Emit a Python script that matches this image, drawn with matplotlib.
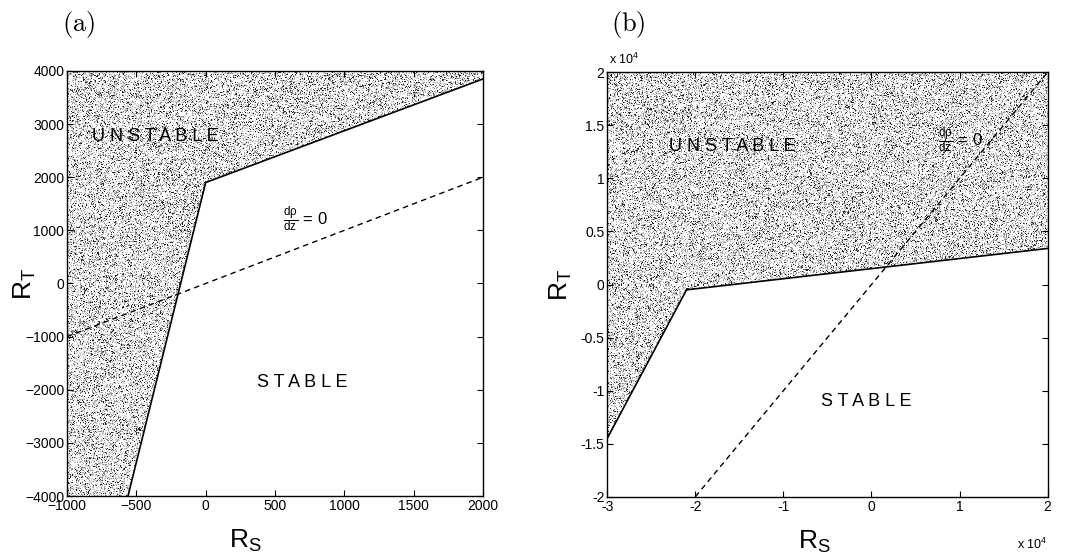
import numpy as np
import matplotlib.pyplot as plt
from matplotlib.patches import Polygon
from matplotlib.ticker import FuncFormatter

plt.rcParams['font.family'] = ['Liberation Sans', 'DejaVu Sans']
plt.rcParams['mathtext.fontset'] = 'custom'
plt.rcParams['mathtext.rm'] = 'Liberation Sans'
plt.rcParams['mathtext.it'] = 'Liberation Sans:italic'

# (a) frontera de estabilidad y linea d(rho)/dz = 0
rs_a = [-560, 0, 2000]
rt_a = [-4000, 1900, 3850]
rs_dz_a = [-1000, 2000]
rt_dz_a = [-1000, 2000]
xlim_a = (-1000, 2000)
ylim_a = (-4000, 4000)
xticks_a = [-1000, -500, 0, 500, 1000, 1500, 2000]
yticks_a = [-4000, -3000, -2000, -1000, 0, 1000, 2000, 3000, 4000]

# (b) misma cosa, escala x 10^4
rs_b = [-30000, -21000, 20000]
rt_b = [-14500, -500, 3400]
rs_dz_b = [-20000, 20000]
rt_dz_b = [-20000, 20000]
xlim_b = (-30000, 20000)
ylim_b = (-20000, 20000)
xticks_b = [-30000, -20000, -10000, 0, 10000, 20000]
yticks_b = [-20000, -15000, -10000, -5000, 0, 5000, 10000, 15000, 20000]

rng = np.random.default_rng(3)


def punteado(ax, verts, npx):
    # zona inestable: trama de puntos grises recortada al poligono
    poly = Polygon(verts, closed=True, facecolor='none', edgecolor='none')
    ax.add_patch(poly)
    tex = rng.choice([0.15, 0.55, 0.8, 1.0], size=npx, p=[0.08, 0.15, 0.2, 0.57])
    xl, yl = ax.get_xlim(), ax.get_ylim()
    im = ax.imshow(tex, cmap='gray', vmin=0, vmax=1, interpolation='nearest',
                   extent=[xl[0], xl[1], yl[0], yl[1]], aspect='auto', zorder=1)
    im.set_clip_path(poly)


def estilo(ax, xlim, ylim, xt, yt):
    ax.set_xlim(*xlim)
    ax.set_ylim(*ylim)
    ax.set_xticks(xt)
    ax.set_yticks(yt)
    ax.tick_params(direction='in', top=True, right=True, length=4, width=0.8,
                   labelsize=10, pad=2)
    for s in ax.spines.values():
        s.set_linewidth(1.0)
    ax.set_xlabel(r'$\mathregular{R_S}$', fontsize=19)
    ax.set_ylabel(r'$\mathregular{R_T}$', fontsize=19)


fig = plt.figure(figsize=(10.65, 5.55), dpi=100)
ax1 = fig.add_axes([0.0629, 0.1063, 0.3906, 0.7658])
ax2 = fig.add_axes([0.5702, 0.105, 0.4135, 0.7647])

# panel (a)
estilo(ax1, xlim_a, ylim_a, xticks_a, yticks_a)
ax1.yaxis.set_label_coords(-0.07, 0.5)
ax1.xaxis.set_label_coords(0.43, -0.075)
verts_a = [(xlim_a[0], ylim_a[0])] + list(zip(rs_a, rt_a)) + [(xlim_a[1], ylim_a[1]), (xlim_a[0], ylim_a[1])]
punteado(ax1, verts_a, (425, 416))
ax1.plot(rs_a, rt_a, color='black', lw=1.2, zorder=3)
ax1.plot(rs_dz_a, rt_dz_a, color='black', lw=1.0, dashes=(4, 3), zorder=3)
ax1.text(-360, 2760, 'U N S T A B L E', fontsize=13, ha='center', va='center', zorder=4)
ax1.text(700, -1870, 'S T A B L E', fontsize=13, ha='center', va='center', zorder=4)
ax1.text(560, 1200, r'$\frac{\mathregular{d\rho}}{\mathregular{dz}}$ = 0', fontsize=12,
         ha='left', va='center', zorder=4)
fig.text(0.058, 0.955, r'$\mathrm{(a)}$', fontsize=19, math_fontfamily='cm',
         ha='left', va='center')

# panel (b)
estilo(ax2, xlim_b, ylim_b, xticks_b, yticks_b)
ax2.yaxis.set_label_coords(-0.075, 0.5)
ax2.xaxis.set_label_coords(0.47, -0.075)
escala = FuncFormatter(lambda v, p: '%g' % (v / 1e4))
ax2.xaxis.set_major_formatter(escala)
ax2.yaxis.set_major_formatter(escala)
ax2.text(0.005, 1.012, r'x 10$^{\mathregular{4}}$', transform=ax2.transAxes,
         fontsize=9, ha='left', va='bottom')
ax2.text(1.0, -0.095, r'x 10$^{\mathregular{4}}$', transform=ax2.transAxes,
         fontsize=9, ha='right', va='top')
verts_b = list(zip(rs_b, rt_b)) + [(xlim_b[1], ylim_b[1]), (xlim_b[0], ylim_b[1])]
punteado(ax2, verts_b, (424, 440))
ax2.plot(rs_b, rt_b, color='black', lw=1.2, zorder=3)
ax2.plot(rs_dz_b, rt_dz_b, color='black', lw=1.0, dashes=(4, 3), zorder=3)
ax2.text(-15800, 13000, 'U N S T A B L E', fontsize=13, ha='center', va='center', zorder=4)
ax2.text(-600, -11000, 'S T A B L E', fontsize=13, ha='center', va='center', zorder=4)
ax2.text(7500, 13600, r'$\frac{\mathregular{d\rho}}{\mathregular{dz}}$ = 0', fontsize=12,
         ha='left', va='center', zorder=4)
fig.text(0.5735, 0.955, r'$\mathrm{(b)}$', fontsize=19, math_fontfamily='cm',
         ha='left', va='center')

fig.savefig('out.png', dpi=100)
